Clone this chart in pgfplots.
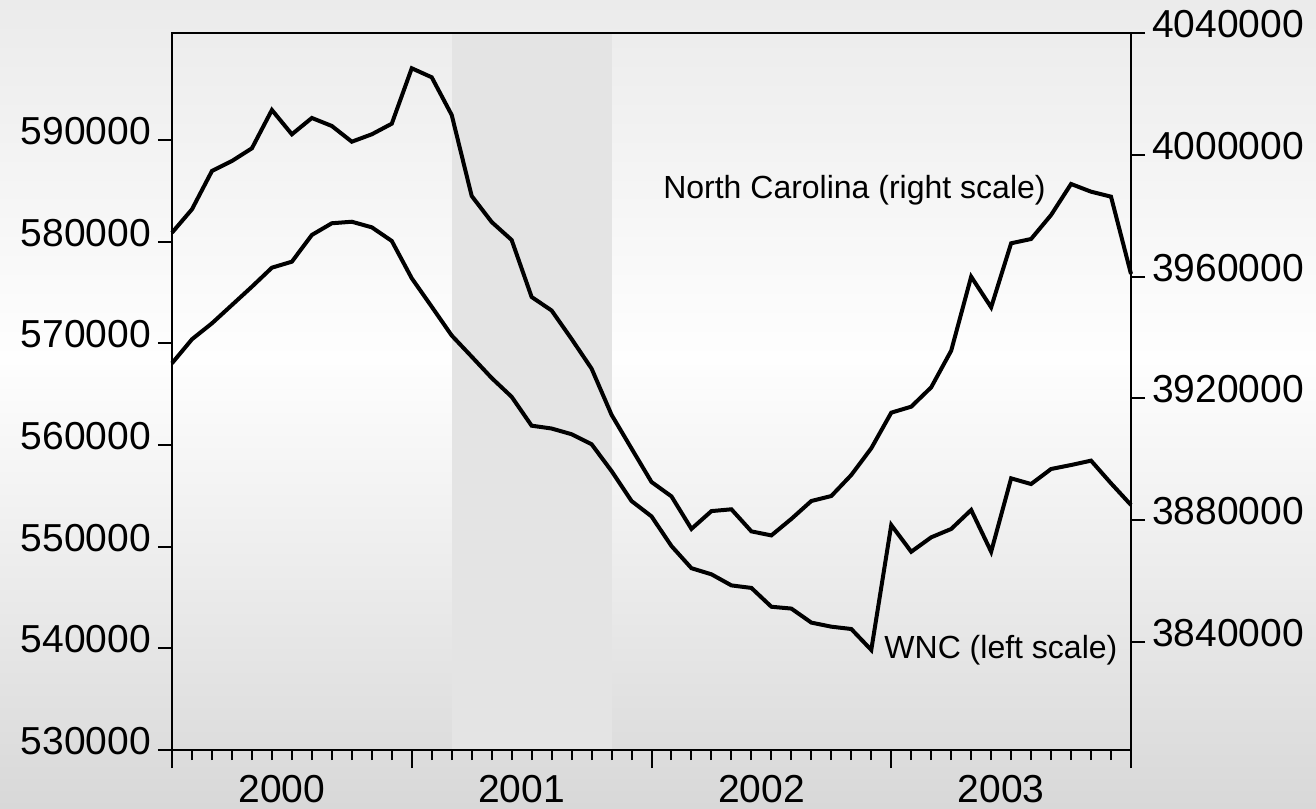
\documentclass[border=0pt]{standalone}
\usepackage{pgfplots}
\pgfplotsset{compat=1.18}
\usepackage{fontspec}
\setmainfont{Liberation Sans}
\definecolor{bgtop}{RGB}{235,235,235}
\definecolor{bgmid}{RGB}{254,254,254}
\definecolor{bgbot}{RGB}{216,216,216}
\definecolor{recess}{RGB}{228,228,228}
\pgfplotsset{
  common/.style={
    at={(86pt,29pt)}, anchor=south west,
    scale only axis, width=479.5pt, height=358.5pt,
    xmin=0, xmax=48, clip=false,
    tick align=outside,
    tick style={line width=1pt, black},
    axis line style={line width=1pt, black},
  },
  ylab/.style={
    scaled y ticks=false,
    yticklabel style={/pgf/number format/fixed, /pgf/number format/1000 sep={}, /pgf/number format/assume math mode=true,
      font=\fontsize{19.5}{23}\selectfont, yshift=4.5pt},
    major tick length=7pt,
  }
}
\begin{document}
\begin{tikzpicture}
\shade[top color=bgtop, bottom color=bgmid] (0pt,224pt) rectangle (658pt,404pt);
\shade[top color=bgmid, bottom color=bgbot] (0pt,0pt) rectangle (658pt,224.5pt);

% box, x axis, shading, WNC
\begin{axis}[common,
  ymin=530000, ymax=600524,
  axis on top,
  ytick=\empty,
  xtick={0,12,24,36,48}, xticklabels={},
  minor xtick={1,2,3,4,5,6,7,8,9,10,11,13,14,15,16,17,18,19,20,21,22,23,25,26,27,28,29,30,31,32,33,34,35,37,38,39,40,41,42,43,44,45,46,47},
  xtick pos=left,
  major tick length=9pt, minor tick length=5pt,
  extra x ticks={5.5,17.5,29.5,41.5},
  extra x tick labels={2000,2001,2002,2003},
  extra x tick style={major tick length=0pt, tick style={draw=none},
    tick label style={font=\fontsize{19.5}{23}\selectfont, yshift=-9pt}},
]
\addplot[draw=none, fill=recess] coordinates {(14,530000) (22,530000) (22,600524) (14,600524)} -- cycle;
\addplot[black, line width=2pt] coordinates {
(0,568040) (1,570400) (2,571970) (3,573770) (4,575570) (5,577440) (6,578030) (7,580660)
(8,581810) (9,581960) (10,581410) (11,580070) (12,576400) (13,573600) (14,570770) (15,568690)
(16,566590) (17,564740) (18,561900) (19,561620) (20,561060) (21,560080) (22,557440) (23,554490)
(24,552980) (25,550060) (26,547880) (27,547280) (28,546190) (29,545940) (30,544090) (31,543910)
(32,542530) (33,542130) (34,541900) (35,539840) (36,552130) (37,549500) (38,550920) (39,551740)
(40,553610) (41,549500) (42,556720) (43,556160) (44,557640) (45,558030) (46,558460) (47,556230)
(48,554100)};
\node[anchor=base west, inner sep=0pt, font=\fontsize{16}{19}\selectfont] at (axis cs:24.57,584196) {North Carolina (right scale)};
\node[anchor=base west, inner sep=0pt, font=\fontsize{16}{19}\selectfont] at (axis cs:35.64,539049) {WNC (left scale)};
\end{axis}

% left scale ticks
\begin{axis}[common, ylab,
  ymin=530000, ymax=600524,
  axis x line=none, axis y line*=left,
  ytick={530000,540000,550000,560000,570000,580000,590000},
]
\end{axis}

% right scale with North Carolina
\begin{axis}[common, ylab,
  ymin=3804537, ymax=4040000,
  axis x line=none, axis y line*=right,
  ytick={3840000,3880000,3920000,3960000,4000000,4040000},
]
\addplot[black, line width=2pt] coordinates {
(0,3974420) (1,3982100) (2,3994680) (3,3997960) (4,4002140) (5,4014710) (6,4006730) (7,4012090)
(8,4009460) (9,4004300) (10,4006730) (11,4010210) (12,4028410) (13,4025450) (14,4013070) (15,3986470)
(16,3977930) (17,3972020) (18,3953300) (19,3948870) (20,3939510) (21,3929790) (22,3914620) (23,3903550)
(24,3892550) (25,3887820) (26,3877150) (27,3882990) (28,3883580) (29,3876330) (30,3875010) (31,3880430)
(32,3886310) (33,3887950) (34,3894850) (35,3903620) (36,3915310) (37,3917280) (38,3923650) (39,3935670)
(40,3959970) (41,3949920) (42,3970940) (43,3972350) (44,3980230) (45,3990410) (46,3987880) (47,3986240)
(48,3960860)};
\end{axis}
\pgfresetboundingbox
\path[use as bounding box] (0pt,0pt) rectangle (658pt,404pt);
\end{tikzpicture}
\end{document}
